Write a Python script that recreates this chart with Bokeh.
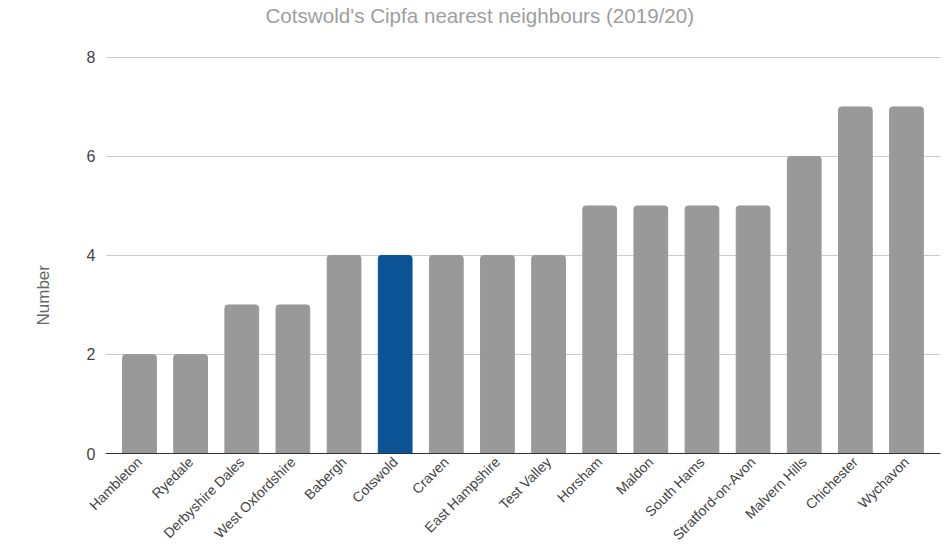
import math
from bokeh.plotting import figure
from bokeh.models import Title, Label, FactorRange, Range1d, ColumnDataSource
from bokeh.embed import file_html
from bokeh.resources import INLINE

title_text = "Cotswold's Cipfa nearest neighbours (2019/20)"
y_label = "Number"
areas = ["Hambleton", "Ryedale", "Derbyshire Dales", "West Oxfordshire", "Babergh",
         "Cotswold", "Craven", "East Hampshire", "Test Valley", "Horsham", "Maldon",
         "South Hams", "Stratford-on-Avon", "Malvern Hills", "Chichester", "Wychavon"]
values = [2, 2, 3, 3, 4, 4, 4, 4, 4, 5, 5, 5, 5, 6, 7, 7]
highlight = "Cotswold"
y_ticks = [0, 2, 4, 6, 8]

GREY = "#999999"
BLUE = "#0b5394"
colors = [BLUE if a == highlight else GREY for a in areas]

src = ColumnDataSource(dict(area=areas, value=values, color=colors))

FONT = "Liberation Sans"

# frame spans the full height above the x axis; the extra top space holds the title
p = figure(width=944, height=551, output_backend="svg", toolbar_location=None,
           x_range=FactorRange(*areas, range_padding=0.165, range_padding_units="absolute"),
           y_range=Range1d(0, 9.15),
           min_border_left=104, min_border_right=4, min_border_top=0, min_border_bottom=98)

p.vbar(x="area", top="value", width=0.66, color="color", source=src,
       border_radius=[3, 3, 0, 0])

p.add_layout(Label(x=160, y=8.85, x_units="screen", y_units="data", text=title_text,
                   text_align="left", text_baseline="middle", text_font=FONT,
                   text_font_size="20.6px", text_color="#9e9e9e"))

p.outline_line_color = None
p.xgrid.grid_line_color = None
p.ygrid.grid_line_color = "#cccccc"
p.ygrid.ticker = y_ticks

p.yaxis.ticker = y_ticks
p.yaxis.axis_line_color = None
p.yaxis.major_tick_line_color = None
p.yaxis.minor_tick_line_color = None
p.yaxis.major_tick_out = 0
p.yaxis.major_tick_in = 0
p.yaxis.minor_tick_out = 0
p.yaxis.major_label_standoff = 10
p.yaxis.major_label_text_font = FONT
p.yaxis.major_label_text_font_size = "16px"
p.yaxis.major_label_text_color = "#444444"

p.xaxis.axis_line_color = "#333333"
p.xaxis.major_tick_line_color = None
p.xaxis.minor_tick_line_color = None
p.xaxis.major_label_orientation = math.pi / 4
p.xaxis.major_label_standoff = 0
p.xaxis.major_label_text_font = FONT
p.xaxis.major_label_text_font_size = "14px"
p.xaxis.major_label_text_color = "#444444"

ylab = Title(text=y_label, align="left", offset=128, standoff=62,
             text_font=FONT, text_font_size="17px", text_font_style="normal",
             text_color="#666666")
p.add_layout(ylab, "left")

open("out.html", "w").write(file_html(p, INLINE))
